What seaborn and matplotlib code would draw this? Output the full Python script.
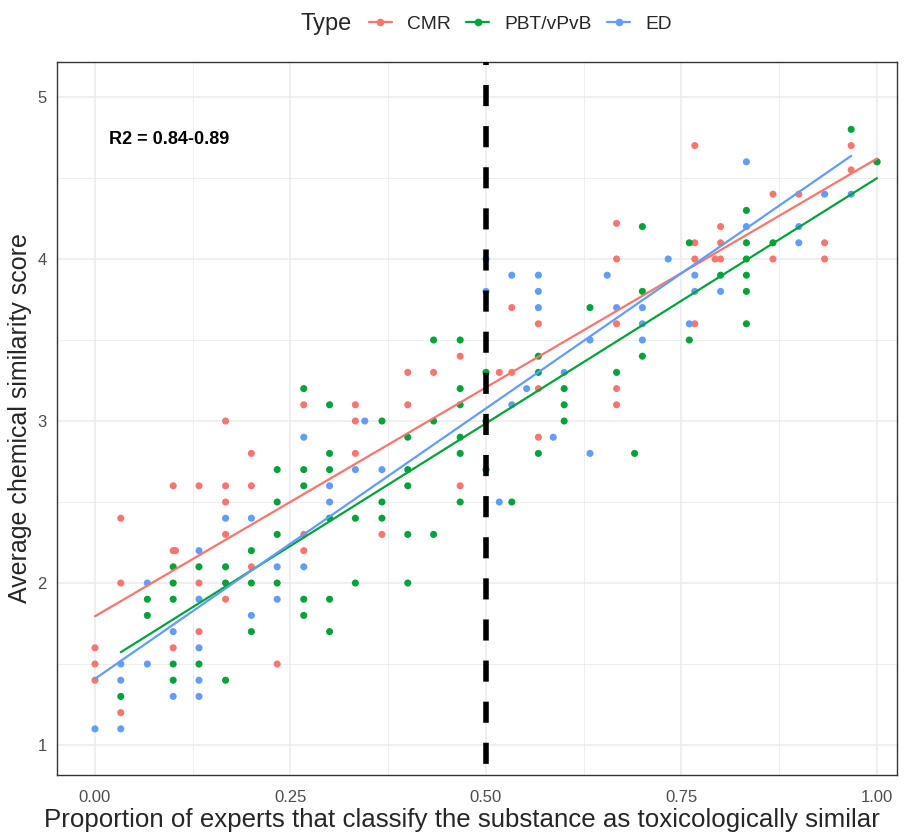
import numpy as np
import pandas as pd
import matplotlib
matplotlib.use('Agg')
import matplotlib.pyplot as plt
from matplotlib.lines import Line2D
from matplotlib.ticker import MultipleLocator
import seaborn as sns

# CMR points (proportion, average score)
cmr_x = [0.0, 0.0, 0.0, 0.033, 0.033, 0.033, 0.1, 0.1, 0.1, 0.103,
         0.133, 0.133, 0.133, 0.167, 0.167, 0.167, 0.167, 0.167,
         0.2, 0.2, 0.2, 0.233, 0.267, 0.267, 0.267, 0.333, 0.333, 0.333,
         0.367, 0.4, 0.4, 0.433, 0.467, 0.467, 0.517, 0.533, 0.533,
         0.567, 0.567, 0.567, 0.667, 0.667, 0.667, 0.667, 0.667,
         0.767, 0.767, 0.767, 0.767, 0.793, 0.8, 0.8, 0.8,
         0.867, 0.867, 0.9, 0.933, 0.933, 0.967, 0.967, 1.0]
cmr_y = [1.6, 1.5, 1.4, 2.4, 2.0, 1.2, 2.6, 2.2, 1.6, 2.2,
         2.6, 2.0, 1.7, 3.0, 2.6, 2.5, 2.3, 1.9,
         2.8, 2.6, 2.1, 1.5, 3.1, 2.3, 2.2, 3.1, 3.0, 2.8,
         2.3, 3.3, 3.1, 3.3, 3.4, 2.6, 3.3, 3.7, 3.3,
         3.6, 3.2, 2.9, 4.22, 4.0, 3.6, 3.2, 3.1,
         4.7, 4.1, 4.0, 3.6, 4.0, 4.2, 4.1, 4.0,
         4.4, 4.0, 4.4, 4.1, 4.0, 4.7, 4.55, 4.6]

# PBT/vPvB points
pbt_x = [0.033, 0.067, 0.067, 0.1, 0.1, 0.1, 0.1, 0.1, 0.133, 0.133,
         0.167, 0.167, 0.167, 0.2, 0.2, 0.2, 0.233, 0.233, 0.233, 0.233,
         0.267, 0.267, 0.267, 0.267, 0.267, 0.3, 0.3, 0.3, 0.3, 0.3, 0.3,
         0.333, 0.333, 0.367, 0.367, 0.367, 0.4, 0.4, 0.4, 0.4, 0.4,
         0.433, 0.433, 0.433, 0.467, 0.467, 0.467, 0.467, 0.467, 0.467,
         0.5, 0.5, 0.5, 0.533, 0.567, 0.567, 0.567, 0.6, 0.6, 0.6,
         0.633, 0.667, 0.69, 0.7, 0.7, 0.7, 0.76, 0.76, 0.8,
         0.833, 0.833, 0.833, 0.833, 0.833, 0.833, 0.867, 0.967, 1.0]
pbt_y = [1.3, 1.9, 1.8, 2.1, 2.0, 1.9, 1.5, 1.4, 2.1, 1.5,
         2.1, 2.0, 1.4, 2.2, 2.0, 1.7, 2.7, 2.5, 2.3, 2.0,
         3.2, 2.7, 2.6, 1.9, 1.8, 3.1, 2.8, 2.7, 2.4, 1.9, 1.7,
         2.4, 2.0, 3.0, 2.5, 2.4, 2.9, 2.7, 2.6, 2.3, 2.0,
         3.5, 3.0, 2.3, 3.5, 3.2, 3.1, 2.9, 2.8, 2.5,
         3.3, 3.0, 2.7, 2.5, 3.4, 3.3, 2.8, 3.2, 3.1, 3.0,
         3.7, 3.3, 2.8, 4.2, 3.8, 3.4, 4.1, 3.5, 3.9,
         4.3, 4.1, 4.0, 3.9, 3.8, 3.6, 4.1, 4.8, 4.6]

# ED points
ed_x = [0.0, 0.033, 0.033, 0.033, 0.067, 0.067, 0.1, 0.1,
        0.133, 0.133, 0.133, 0.133, 0.133, 0.167, 0.2, 0.2, 0.233, 0.233,
        0.267, 0.267, 0.3, 0.3, 0.333, 0.345, 0.367, 0.5, 0.5, 0.517,
        0.533, 0.533, 0.552, 0.567, 0.567, 0.567, 0.586, 0.6, 0.633, 0.633,
        0.655, 0.667, 0.7, 0.7, 0.7, 0.733, 0.76, 0.767, 0.767, 0.8,
        0.833, 0.833, 0.9, 0.9, 0.933, 0.967]
ed_y = [1.1, 1.5, 1.4, 1.1, 2.0, 1.5, 1.7, 1.3,
        2.2, 1.9, 1.6, 1.4, 1.3, 2.4, 2.4, 1.8, 2.1, 1.9,
        2.9, 2.1, 2.6, 2.5, 2.7, 3.0, 2.7, 4.0, 3.8, 2.5,
        3.9, 3.1, 3.2, 3.9, 3.8, 3.7, 2.9, 3.3, 3.5, 2.8,
        3.9, 3.7, 3.7, 3.6, 3.5, 4.0, 3.6, 3.9, 3.8, 3.8,
        4.6, 4.2, 4.2, 4.1, 4.4, 4.4]

types = ['CMR', 'PBT/vPvB', 'ED']
colors = {'CMR': '#F8766D', 'PBT/vPvB': '#00A33A', 'ED': '#619CFF'}

df = pd.concat([
    pd.DataFrame({'prop': cmr_x, 'score': cmr_y, 'Type': 'CMR'}),
    pd.DataFrame({'prop': pbt_x, 'score': pbt_y, 'Type': 'PBT/vPvB'}),
    pd.DataFrame({'prop': ed_x, 'score': ed_y, 'Type': 'ED'}),
], ignore_index=True)

sns.set_style('white')
plt.rcParams['font.family'] = ['Liberation Sans', 'DejaVu Sans']

fig = plt.figure(figsize=(9.07, 8.32), dpi=100)
ax = fig.add_axes([0.0628, 0.0685, 0.9262, 0.857])

# grid like theme_bw
ax.xaxis.set_major_locator(MultipleLocator(0.25))
ax.xaxis.set_minor_locator(MultipleLocator(0.125))
ax.yaxis.set_major_locator(MultipleLocator(1))
ax.yaxis.set_minor_locator(MultipleLocator(0.5))
ax.grid(which='major', color='#EBEBEB', lw=1.1, zorder=0)
ax.grid(which='minor', color='#EBEBEB', lw=0.6, zorder=0)
ax.set_axisbelow(True)

sns.scatterplot(data=df, x='prop', y='score', hue='Type', palette=colors,
                hue_order=types, s=26, linewidth=0, legend=False, ax=ax, zorder=3)

for t in types:
    sub = df[df['Type'] == t]
    sns.regplot(data=sub, x='prop', y='score', scatter=False, ci=None,
                truncate=True, color=colors[t], line_kws={'lw': 1.6, 'zorder': 4}, ax=ax)

ax.axvline(0.5, color='black', lw=4, ls=(5.4, (3.8, 3.6)), zorder=5)

ax.text(0.018, 4.74, 'R2 = 0.84-0.89', fontsize=13, fontweight='bold',
        va='center', ha='left', color='black')

ax.set_xlim(-0.0486, 1.0256)
ax.set_ylim(0.815, 5.216)
ax.set_xticks([0, 0.25, 0.5, 0.75, 1.0])
ax.set_xticklabels(['0.00', '0.25', '0.50', '0.75', '1.00'])
ax.set_yticks([1, 2, 3, 4, 5])
ax.tick_params(which='major', length=4.5, width=0.9, color='#333333',
               labelcolor='#4D4D4D', labelsize=12)
ax.tick_params(axis='x', which='major', pad=6.5)
ax.tick_params(axis='y', which='major', pad=3)
ax.tick_params(which='minor', length=0)
for sp in ax.spines.values():
    sp.set_color('#333333')
    sp.set_linewidth(1.0)

ax.set_xlabel('Proportion of experts that classify the substance as toxicologically similar',
              fontsize=18.6)
ax.xaxis.set_label_coords(0.482, -0.046)
ax.set_ylabel('Average chemical similarity score', fontsize=18, labelpad=4)

handles = [Line2D([0], [0], color=colors[t], lw=1.6, marker='o', markersize=4.5)
           for t in types]
fig.text(0.331, 0.9712, 'Type', fontsize=17, ha='left', va='center')
fig.legend(handles, types, loc='center', bbox_to_anchor=(0.574, 0.9712), ncol=3,
           frameon=False, fontsize=13.8, handlelength=1.2, handletextpad=0.8,
           columnspacing=0.8)

fig.savefig('out.png', dpi=100)
